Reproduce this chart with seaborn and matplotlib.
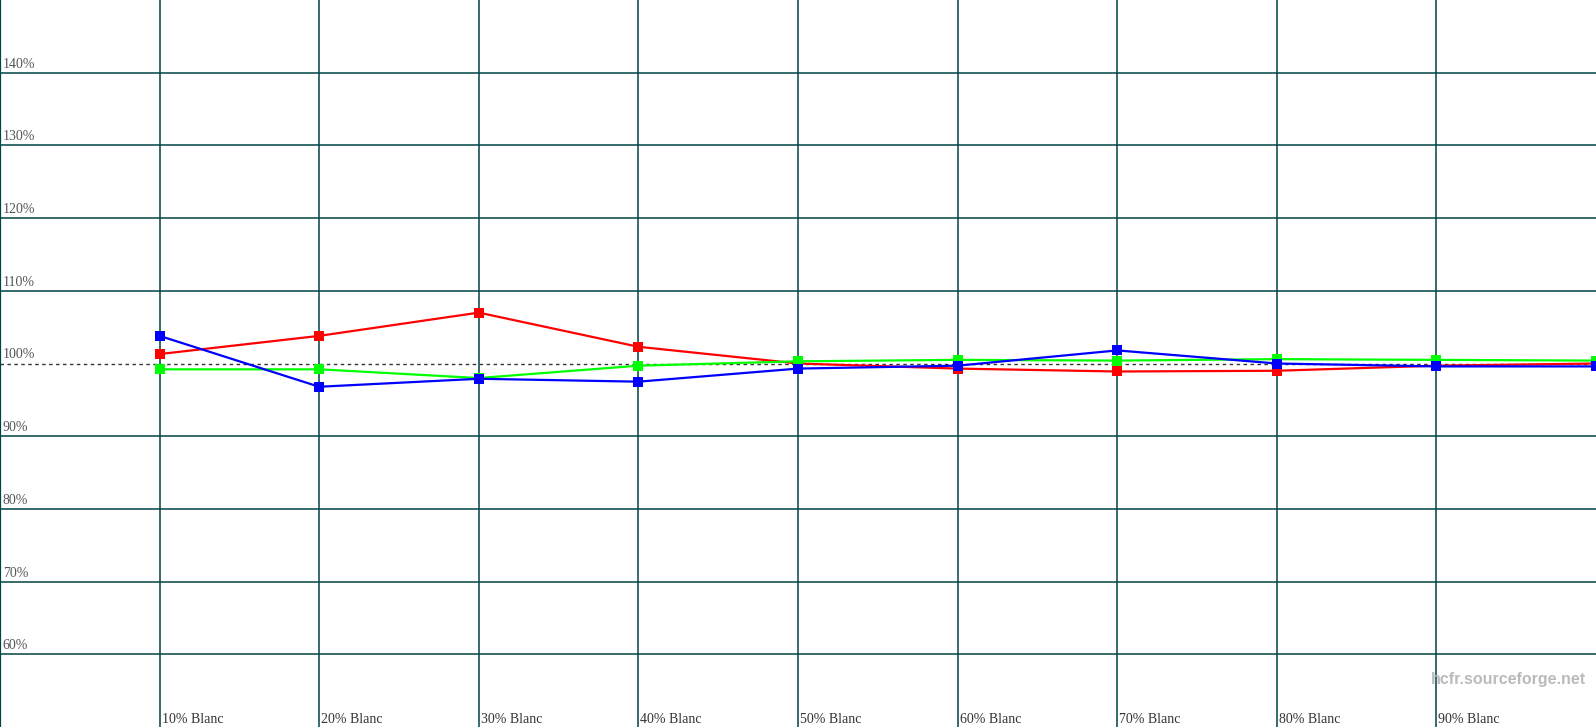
import matplotlib
import matplotlib.pyplot as plt
import pandas as pd
import seaborn as sns

matplotlib.use("Agg")

# white level (% of white) and relative luminance per channel (%)
levels = [10, 20, 30, 40, 50, 60, 70, 80, 90, 100]
red = [101.3, 103.8, 107.0, 102.3, 100.0, 99.3, 98.9, 99.0, 99.7, 100.0]
green = [99.2, 99.2, 98.0, 99.7, 100.3, 100.5, 100.4, 100.6, 100.5, 100.4]
blue = [103.8, 96.8, 97.9, 97.5, 99.3, 99.7, 101.8, 100.0, 99.6, 99.6]

y_ticks = [60, 70, 80, 90, 100, 110, 120, 130, 140]
x_ticks = [10, 20, 30, 40, 50, 60, 70, 80, 90]
x_labels = [f'{v}% Blanc' for v in x_ticks]

df = pd.DataFrame({'level': levels * 3,
                   'value': red + green + blue,
                   'channel': ['R'] * 10 + ['G'] * 10 + ['B'] * 10})

sns.set_style('white')
plt.rcParams['font.family'] = ['Liberation Serif', 'DejaVu Serif']

fig = plt.figure(figsize=(15.96, 7.27), dpi=100)
ax = fig.add_axes([0, 0, 1, 1])
grid_color = '#004444'

for v in y_ticks:
    if v == 100:
        ax.axhline(v, color='#333333', lw=1, ls=(0, (2.5, 2.5)), zorder=1)
    else:
        ax.axhline(v, color=grid_color, lw=1.1, zorder=1)
for v in [0] + x_ticks:
    ax.axvline(v, color=grid_color, lw=1.6 if v == 0 else 1.1, zorder=1)

sns.lineplot(data=df, x='level', y='value', hue='channel',
             palette={'R': '#ff0000', 'G': '#00ff00', 'B': '#0000ff'},
             hue_order=['R', 'G', 'B'], marker='s', markersize=7,
             markeredgewidth=0, linewidth=1.6, legend=False, ax=ax, zorder=3)

ax.set_xlim(0, 100)
ax.set_ylim(50, 150)
ax.set_xticks([])
ax.set_yticks([])
ax.set_xlabel('')
ax.set_ylabel('')
for s in ax.spines.values():
    s.set_visible(False)

for v in y_ticks:
    ax.annotate(f'{v}%', xy=(0, v), xytext=(2, 1.5), textcoords='offset points',
                fontsize=10, color='#555555', ha='left', va='bottom')
for v, lab in zip(x_ticks, x_labels):
    ax.annotate(lab, xy=(v, 50), xytext=(1.5, 1), textcoords='offset points',
                fontsize=10, color='#333333', ha='left', va='bottom')

fig.text(0.9935, 0.065, 'hcfr.sourceforge.net', fontsize=11.5, fontweight='bold',
         color='#bbbbbb', ha='right', va='center', family=['Liberation Sans'])

fig.savefig('out.png', dpi=100)
